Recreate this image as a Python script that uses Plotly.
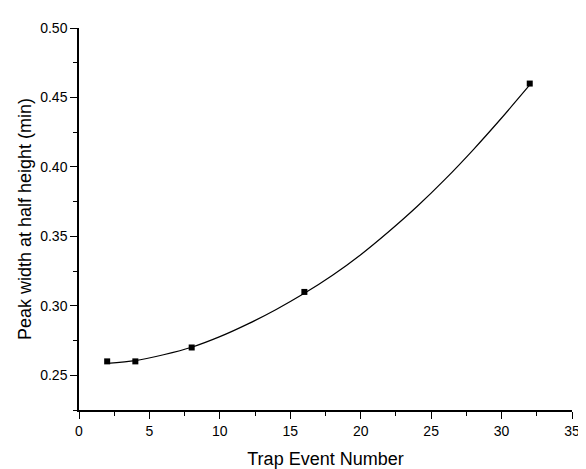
import plotly.graph_objects as go

trap_events = [2, 4, 8, 16, 32]
peak_width = [0.26, 0.26, 0.27, 0.31, 0.46]

# fitted curve
fit_x = [2, 4, 6, 8, 10, 12, 14, 16, 18, 20, 22, 24, 26, 28, 30, 32]
fit_y = [0.2586, 0.2605, 0.2648, 0.2702, 0.2778, 0.2870, 0.2974, 0.3090,
         0.3220, 0.3368, 0.3535, 0.3715, 0.3912, 0.4125, 0.4352, 0.4590]

x_ticks = [0, 5, 10, 15, 20, 25, 30, 35]
y_ticks = [0.25, 0.30, 0.35, 0.40, 0.45, 0.50]

fig = go.Figure()
fig.add_trace(go.Scatter(x=fit_x, y=fit_y, mode="lines",
                         line=dict(color="black", width=1.2, shape="spline", smoothing=0.8),
                         showlegend=False, hoverinfo="skip"))
fig.add_trace(go.Scatter(x=trap_events, y=peak_width, mode="markers",
                         marker=dict(symbol="square", size=6, color="black"),
                         showlegend=False))

font = "Liberation Sans, Arial, sans-serif"
# the page body adds an 8px offset; the figure is sized so the plot lands where the reference has it
fig.update_layout(
    width=578, height=461,
    margin=dict(l=71, r=14, t=12, b=59),
    paper_bgcolor="white", plot_bgcolor="white",
    font=dict(family=font, color="black", size=14),
)
fig.update_xaxes(
    range=[0, 35], tickvals=x_ticks, ticktext=[str(v) for v in x_ticks],
    showgrid=False, zeroline=False, automargin=False,
    showline=True, linecolor="black", linewidth=1.5,
    ticks="outside", ticklen=7, tickwidth=1.2, tickcolor="black",
    minor=dict(dtick=2.5, tick0=0, ticks="outside", ticklen=4, tickwidth=1, tickcolor="black"),
    tickfont=dict(size=14, family=font),
    title=dict(text="Trap Event Number", font=dict(size=18, family=font)),
)
fig.update_yaxes(
    range=[0.225, 0.50], tickvals=y_ticks, ticktext=[f"{v:.2f}" for v in y_ticks],
    showgrid=False, zeroline=False, automargin=True,
    showline=True, linecolor="black", linewidth=1.5,
    ticks="outside", ticklen=7, tickwidth=1.2, tickcolor="black",
    minor=dict(dtick=0.025, tick0=0.225, ticks="outside", ticklen=4, tickwidth=1, tickcolor="black"),
    tickfont=dict(size=14, family=font),
    title=dict(text="Peak width at half height (min)", font=dict(size=18, family=font), standoff=4),
)

fig.write_html("out.html")
